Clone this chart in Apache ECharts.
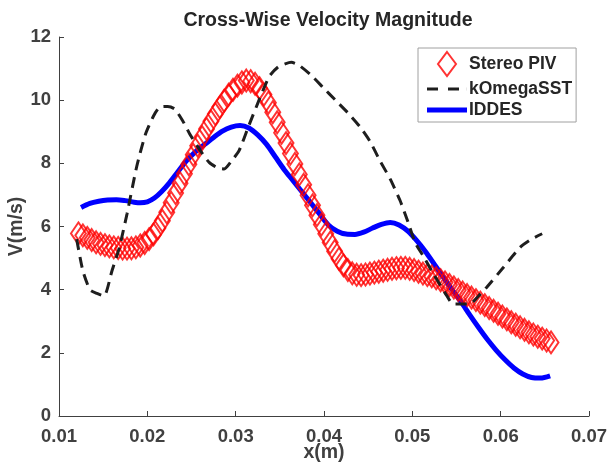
<!DOCTYPE html>
<html>
<head>
<meta charset="utf-8">
<script src="https://cdn.jsdelivr.net/npm/echarts@6/dist/echarts.min.js"></script>
<style>
  html, body { margin: 0; padding: 0; background: #fff; }
  #chart { width: 608px; height: 463px; }
</style>
</head>
<body>
<div id="chart"></div>
<script>
// Stereo PIV samples
var pivX = [0.0122, 0.0127, 0.0132, 0.0137, 0.0142, 0.0147, 0.0152, 0.0157, 0.0162, 0.0167,
  0.0172, 0.0177, 0.0182, 0.0187, 0.0192, 0.0197, 0.0202, 0.0207, 0.0212, 0.0217,
  0.0222, 0.0227, 0.0232, 0.0237, 0.0242, 0.0247, 0.0252, 0.0257, 0.0262, 0.0267,
  0.0272, 0.0277, 0.0282, 0.0287, 0.0292, 0.0297, 0.0302, 0.0307, 0.0312, 0.0317,
  0.0322, 0.0327, 0.0332, 0.0337, 0.0342, 0.0347, 0.0352, 0.0357, 0.0362, 0.0367,
  0.0372, 0.0377, 0.0382, 0.0387, 0.0392, 0.0397, 0.0402, 0.0407, 0.0412, 0.0417,
  0.0422, 0.0427, 0.0432, 0.0437, 0.0442, 0.0447, 0.0452, 0.0457, 0.0462, 0.0467,
  0.0472, 0.0477, 0.0482, 0.0487, 0.0492, 0.0497, 0.0502, 0.0507, 0.0512, 0.0517,
  0.0522, 0.0527, 0.0532, 0.0537, 0.0542, 0.0547, 0.0552, 0.0557, 0.0562, 0.0567,
  0.0572, 0.0577, 0.0582, 0.0587, 0.0592, 0.0597, 0.0602, 0.0607, 0.0612, 0.0617,
  0.0622, 0.0627, 0.0632, 0.0637, 0.0642, 0.0647, 0.0652, 0.0657];
var pivV = [5.78, 5.72, 5.64, 5.57, 5.50, 5.45, 5.41, 5.37, 5.34, 5.32,
  5.30, 5.30, 5.31, 5.34, 5.40, 5.48, 5.60, 5.75, 5.95, 6.18,
  6.45, 6.75, 7.06, 7.37, 7.67, 7.97, 8.27, 8.56, 8.83, 9.09,
  9.33, 9.56, 9.78, 9.98, 10.17, 10.33, 10.46, 10.56, 10.62, 10.60,
  10.52, 10.38, 10.18, 9.92, 9.62, 9.30, 8.97, 8.64, 8.31, 7.98,
  7.65, 7.32, 6.99, 6.67, 6.36, 6.06, 5.77, 5.49, 5.22, 4.98,
  4.77, 4.62, 4.52, 4.47, 4.46, 4.48, 4.51, 4.54, 4.57, 4.60,
  4.63, 4.66, 4.68, 4.69, 4.69, 4.66, 4.62, 4.57, 4.51, 4.46,
  4.42, 4.36, 4.30, 4.23, 4.15, 4.07, 3.99, 3.91, 3.83, 3.75,
  3.67, 3.59, 3.51, 3.42, 3.33, 3.24, 3.15, 3.06, 2.97, 2.89,
  2.81, 2.73, 2.65, 2.58, 2.51, 2.45, 2.39, 2.33];

// kOmegaSST
var kwX = [0.0120, 0.0127, 0.0135, 0.0143, 0.0151, 0.0160, 0.0168, 0.0177, 0.0188, 0.0198,
  0.0207, 0.0214, 0.0223, 0.0231, 0.0240, 0.0248, 0.0260, 0.0270, 0.0280, 0.0287,
  0.0296, 0.0304, 0.0315, 0.0327, 0.0338, 0.0348, 0.0356, 0.0363, 0.0372, 0.0385,
  0.0399, 0.0413, 0.0427, 0.0441, 0.0452, 0.0463, 0.0475, 0.0486, 0.0495, 0.0503,
  0.0512, 0.0525, 0.0539, 0.0546, 0.0565, 0.0575, 0.0584, 0.0603, 0.0622, 0.0635, 0.0647];
var kwV = [5.6, 4.6, 4.0, 3.88, 3.8, 4.6, 5.3, 6.4, 7.9, 8.93,
  9.5, 9.78, 9.8, 9.72, 9.35, 8.93, 8.4, 8.03, 7.85, 7.82,
  8.1, 8.41, 9.2, 10.04, 10.75, 11.05, 11.15, 11.2, 11.1, 10.8,
  10.4, 10.0, 9.6, 9.15, 8.7, 8.1, 7.5, 6.83, 6.15, 5.5,
  5.08, 4.45, 3.81, 3.55, 3.55, 3.8, 4.07, 4.7, 5.34, 5.6, 5.77];

// IDDES
var iddesX = [0.0125, 0.0135, 0.0145, 0.0155, 0.0165, 0.0175, 0.0185, 0.0192, 0.0200, 0.0208,
  0.0216, 0.0225, 0.0235, 0.0245, 0.0255, 0.0265, 0.0275, 0.0285, 0.0295, 0.0305,
  0.0315, 0.0325, 0.0335, 0.0345, 0.0355, 0.0365, 0.0375, 0.0385, 0.0395, 0.0405,
  0.0415, 0.0425, 0.0435, 0.0445, 0.0455, 0.0465, 0.0475, 0.0485, 0.0495, 0.0505,
  0.0515, 0.0525, 0.0535, 0.0545, 0.0555, 0.0565, 0.0575, 0.0585, 0.0595, 0.0605,
  0.0615, 0.0625, 0.0635, 0.0645, 0.0656];
var iddesV = [6.6, 6.73, 6.8, 6.84, 6.85, 6.82, 6.77, 6.75, 6.78, 6.9,
  7.1, 7.38, 7.75, 8.1, 8.38, 8.6, 8.82, 9.02, 9.15, 9.2,
  9.12, 8.9, 8.6, 8.2, 7.8, 7.45, 7.1, 6.75, 6.4, 6.05,
  5.85, 5.76, 5.75, 5.82, 5.95, 6.07, 6.13, 6.05, 5.85, 5.55,
  5.2, 4.8, 4.4, 4.0, 3.62, 3.2, 2.8, 2.42, 2.08, 1.78,
  1.52, 1.33, 1.22, 1.2, 1.27];

function pairs(xs, ys) {
  var out = [];
  for (var i = 0; i < xs.length; i++) out.push([xs[i], ys[i]]);
  return out;
}

var font = '"Liberation Sans", Arial, sans-serif';
var axisColor = "#404040";

var myChart = echarts.init(document.getElementById("chart"));
var option = {
  animation: false,
  backgroundColor: "#fff",
  title: {
    text: "Cross-Wise Velocity Magnitude",
    left: 323,
    textAlign: "center",
    top: 6,
    textStyle: { fontFamily: font, fontWeight: "bold", fontSize: 19.5, color: "#262626" }
  },
  legend: {
    orient: "vertical",
    left: 418,
    top: 48,
    padding: [3, 4, 3, 9],
    itemWidth: 40,
    itemHeight: 24,
    itemGap: 3,
    borderColor: "#a0a0a0",
    borderWidth: 1,
    borderRadius: 0,
    backgroundColor: "#fff",
    textStyle: { fontFamily: font, fontWeight: "bold", fontSize: 17.5, color: "#262626", padding: [0, 0, 0, -3] },
    data: [
      { name: "Stereo PIV", icon: "path://M6,0 L12,8 L6,16 L0,8 Z",
        itemStyle: { color: "rgba(0,0,0,0)", borderColor: "#ff0000", borderWidth: 2 } },
      { name: "kOmegaSST", icon: "path://M0,0 H11 V3 H0 Z M21,0 H32 V3 H21 Z M39.9,0 H40 V3 H39.9 Z",
        itemStyle: { color: "#1e1e1e", borderWidth: 0 } },
      { name: "IDDES", icon: "path://M0,0 H40 V5 H0 Z",
        itemStyle: { color: "#0000ff", borderWidth: 0 } }
    ]
  },
  grid: { left: 59, right: 19, top: 37, bottom: 47, containLabel: false, outerBoundsMode: "none" },
  xAxis: {
    type: "value",
    min: 0.01,
    max: 0.07,
    interval: 0.01,
    name: "x(m)",
    nameLocation: "middle",
    nameGap: 27,
    nameMoveOverlap: false,
    nameTextStyle: { fontFamily: font, fontWeight: "bold", fontSize: 19.5, color: axisColor },
    axisLine: { show: true, onZero: false, lineStyle: { color: axisColor, width: 1 } },
    axisTick: { show: true, inside: true, length: 5, lineStyle: { color: axisColor } },
    axisLabel: {
      margin: 11,
      fontFamily: font, fontWeight: "bold", fontSize: 18.5, color: axisColor,
      formatter: function (v) { return v.toFixed(2); }
    },
    splitLine: { show: false }
  },
  yAxis: {
    type: "value",
    min: 0,
    max: 12,
    interval: 2,
    name: "V(m/s)",
    nameLocation: "middle",
    nameGap: 32,
    nameMoveOverlap: false,
    nameTextStyle: { fontFamily: font, fontWeight: "bold", fontSize: 19.5, color: axisColor },
    axisLine: { show: true, lineStyle: { color: axisColor, width: 1 } },
    axisTick: { show: true, inside: true, length: 5, lineStyle: { color: axisColor } },
    axisLabel: { margin: 8, fontFamily: font, fontWeight: "bold", fontSize: 18.5, color: axisColor },
    splitLine: { show: false }
  },
  series: [
    {
      name: "IDDES",
      type: "line",
      data: pairs(iddesX, iddesV),
      smooth: 0.3,
      symbol: "none",
      lineStyle: { color: "#0000ff", width: 5 },
      itemStyle: { color: "#0000ff" },
      z: 2
    },
    {
      name: "Stereo PIV",
      type: "scatter",
      data: pairs(pivX, pivV),
      symbol: "diamond",
      symbolSize: [15, 22],
      itemStyle: { color: "rgba(0,0,0,0)", borderColor: "#ff0000", borderWidth: 2 },
      z: 3
    },
    {
      name: "kOmegaSST",
      type: "line",
      data: pairs(kwX, kwV),
      smooth: 0.2,
      symbol: "none",
      lineStyle: { color: "#1e1e1e", width: 3, type: [11, 7] },
      itemStyle: { color: "#1e1e1e" },
      z: 4
    }
  ]
};
myChart.setOption(option);
window.addEventListener("resize", function () {
  myChart.resize();
});
</script>
</body>
</html>
